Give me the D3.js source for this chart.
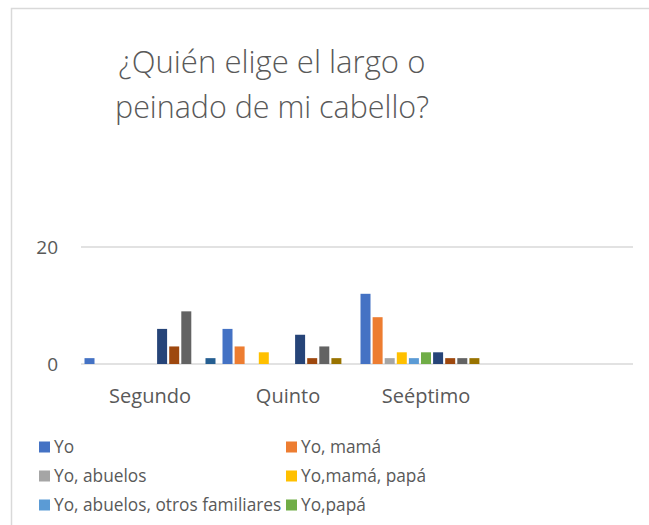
<!DOCTYPE html>
<html>
<head>
<meta charset="utf-8">
<script src="https://cdn.jsdelivr.net/npm/d3@7"></script>
<style>
html,body{margin:0;padding:0;background:#fff;}
svg{display:block;}
text{font-family:"Open Sans","Noto Sans",sans-serif;fill:#595959;}
</style>
</head>
<body>
<script>
const titleLines = ["¿Quién elige el largo o", "peinado de mi cabello?"];
const categories = ["Segundo", "Quinto", "Seéptimo", ""];
const seriesNames = ["Yo", "Yo, mamá", "Yo, abuelos", "Yo,mamá, papá", "Yo, abuelos, otros familiares", "Yo,papá",
  "Serie 7", "Serie 8", "Serie 9", "Serie 10", "Serie 11"];
const s0 = [1, 6, 12, 0];
const s1 = [0, 3, 8, 0];
const s2 = [0, 0, 1, 0];
const s3 = [0, 2, 2, 0];
const s4 = [0, 0, 1, 0];
const s5 = [0, 0, 2, 0];
const s6 = [6, 5, 2, 0];
const s7 = [3, 1, 1, 0];
const s8 = [9, 3, 1, 0];
const s9 = [0, 1, 1, 0];
const s10 = [1, 0, 0, 0];
const seriesValues = [s0, s1, s2, s3, s4, s5, s6, s7, s8, s9, s10];
const yTicks = [0, 20];
const colors = ["#4472C4","#ED7D31","#A5A5A5","#FFC000","#5B9BD5","#70AD47","#264478","#9E480E","#636363","#997300","#255E91"];

const W = 649, H = 525;
const svg = d3.select("body").append("svg").attr("width", W).attr("height", H);

// chart border
svg.append("rect").attr("x", 11.5).attr("y", 8.5).attr("width", 700).attr("height", 600)
  .attr("fill", "#fff").attr("stroke", "#d9d9d9").attr("stroke-width", 1.5);

// title
const titleTargets = [307, 314];
const titleY = [73, 118];
titleLines.forEach((t, i) => {
  const tx = svg.append("text").attr("x", 272).attr("y", titleY[i]).attr("text-anchor", "middle")
    .style("font-weight", 300).style("font-size", "30px").text(t);
  const w = tx.node().getComputedTextLength();
  tx.style("font-size", (30 * titleTargets[i] / w) + "px");
});

const x0 = d3.scaleBand().domain(categories.map((c, i) => i)).range([81, 633]).padding(0);
const x1 = d3.scaleBand().domain(d3.range(seriesNames.length)).range([0, x0.bandwidth()])
  .paddingInner(0.174).paddingOuter(0.29);
const y = d3.scaleLinear().domain([0, 20]).range([364, 247]);

// gridlines
svg.append("g").selectAll("line").data(yTicks).join("line")
  .attr("x1", 81).attr("x2", 633).attr("y1", d => y(d)).attr("y2", d => y(d))
  .attr("stroke", "#d9d9d9").attr("stroke-width", 1.5);

// y axis labels
const yAxis = d3.axisLeft(y).tickValues(yTicks).tickSize(0).tickPadding(0);
const gy = svg.append("g").attr("transform", "translate(58,0)").call(yAxis);
gy.select(".domain").remove();
gy.selectAll("text").style("font-size", "19px").attr("fill", "#595959")
  .style("font-family", '"Open Sans","Noto Sans",sans-serif').attr("dy", "0.35em");

// bars
seriesValues.forEach((vals, si) => {
  svg.append("g").selectAll("rect").data(vals.map((v, ci) => ({v, ci}))).join("rect")
    .filter(d => d.v > 0)
    .attr("x", d => x0(d.ci) + x1(si))
    .attr("width", x1.bandwidth())
    .attr("y", d => y(d.v))
    .attr("height", d => y(0) - y(d.v))
    .attr("fill", colors[si]);
});

// x axis labels
const xAxis = d3.axisBottom(x0).tickFormat(i => categories[i]).tickSize(0).tickPadding(0);
const gx = svg.append("g").attr("transform", "translate(0,396)").call(xAxis);
gx.select(".domain").remove();
gx.selectAll("text").style("font-size", "20px").attr("fill", "#595959").attr("dy", "0.35em")
  .style("font-family", '"Open Sans","Noto Sans",sans-serif');

// legend (only the rows that fit inside the picture, as in the reference)
const lg = svg.append("g");
seriesNames.forEach((name, i) => {
  const col = i % 2, row = Math.floor(i / 2);
  const lx = col === 0 ? 39 : 286;
  const ly = 447 + row * 29;
  if (ly + 10 > H) return;
  lg.append("rect").attr("x", lx).attr("y", ly - 5.5).attr("width", 11).attr("height", 11).attr("fill", colors[i]);
  lg.append("text").attr("x", lx + 15).attr("y", ly).attr("dy", "0.35em").style("font-size", "17.3px").text(name);
});
</script>
</body>
</html>
